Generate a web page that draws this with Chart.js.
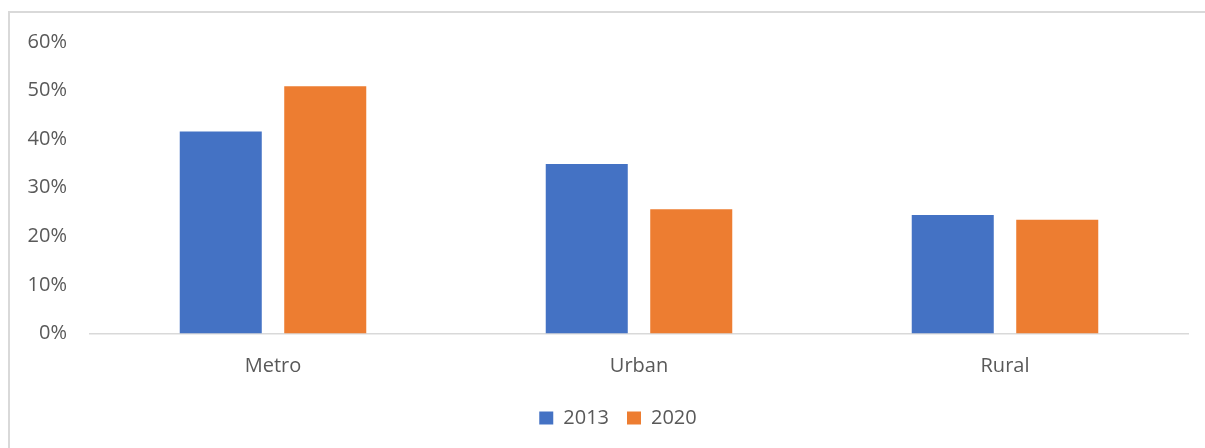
<!DOCTYPE html>
<html>
<head>
<meta charset="utf-8">
<script src="https://cdn.jsdelivr.net/npm/chart.js@4/dist/chart.umd.min.js"></script>
<style>
  html, body { margin: 0; padding: 0; background: #fff; }
  #wrap { position: relative; width: 1205px; height: 448px; overflow: hidden; }
  #frame {
    position: absolute; left: 8px; top: 11px; width: 1300px; height: 500px;
    border-left: 2px solid #d9d9d9; border-top: 2px solid #d9d9d9;
  }
  canvas { position: absolute; left: 0; top: 0; }
</style>
</head>
<body>
<div id="wrap">
  <div id="frame"></div>
  <canvas id="chart" width="1205" height="448"></canvas>
</div>
<script>
const categories = ["Metro", "Urban", "Rural"];
const years = ["2013", "2020"];
const share2013 = [0.416, 0.349, 0.244];
const share2020 = [0.509, 0.256, 0.234];
const colors = ["#4472C4", "#ED7D31"];

const font = { family: "'Open Sans', sans-serif", size: 20 };
const textColor = "#595959";

// nudge the legend a little to the right of the canvas centre
const legendShift = {
  id: "legendShift",
  afterLayout(chart) {
    chart.legend.left += 24;
    chart.legend.right += 24;
  }
};

const ctx = document.getElementById("chart").getContext("2d");

new Chart(ctx, {
  type: "bar",
  data: {
    labels: categories,
    datasets: [
      {
        label: years[0],
        data: share2013,
        backgroundColor: colors[0],
        barPercentage: 0.785,
        categoryPercentage: 0.571
      },
      {
        label: years[1],
        data: share2020,
        backgroundColor: colors[1],
        barPercentage: 0.785,
        categoryPercentage: 0.571
      }
    ]
  },
  plugins: [legendShift],
  options: {
    responsive: false,
    animation: false,
    layout: { padding: { left: 0, right: 17, top: 42, bottom: 10 } },
    plugins: {
      tooltip: { enabled: false },
      legend: {
        position: "bottom",
        labels: {
          font: font,
          color: textColor,
          boxWidth: 14,
          boxHeight: 13,
          padding: 18
        }
      }
    },
    scales: {
      x: {
        grid: { display: false, drawTicks: false },
        border: { display: true, color: "#d9d9d9", width: 1.5 },
        ticks: { font: { ...font, lineHeight: 0.6 }, color: textColor, padding: 26.5 },
        afterFit: scale => { scale.height -= 8.5; }
      },
      y: {
        min: 0,
        max: 0.6,
        grid: { display: false, drawTicks: false },
        border: { display: false },
        ticks: {
          stepSize: 0.1,
          font: font,
          color: textColor,
          padding: 23,
          callback: v => Math.round(v * 100) + "%"
        },
        afterFit: scale => { scale.width = 90; }
      }
    }
  }
});
</script>
</body>
</html>
